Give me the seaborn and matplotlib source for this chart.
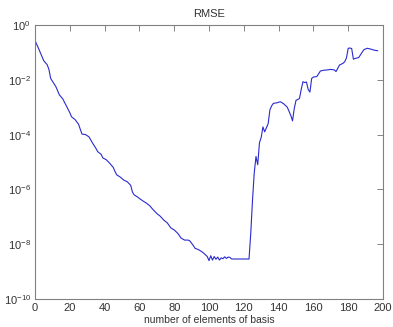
import numpy as np
import pandas as pd
import matplotlib
matplotlib.use("Agg")
import matplotlib.pyplot as plt
import seaborn as sns

# ---------------------------------------------------------
# DATA (RMSE as powers of ten)
# ---------------------------------------------------------
n_basis = [0, 2, 4, 5, 7, 8, 9, 11, 12, 14, 16, 18, 20, 21, 23, 25, 26, 27, 29, 31,
           33, 35, 36, 38, 39, 41, 43, 45, 46, 47, 49, 51, 53, 55, 56, 57, 59, 60, 62, 64,
           66, 68, 70, 72, 74, 76, 78, 80, 82, 84, 86, 88, 89, 91, 92, 94, 96, 97, 99, 100,
           101, 102, 103, 104, 105, 106, 107, 108, 109, 110, 111, 112, 113, 115, 118, 120, 122, 123, 124, 125,
           126, 127, 128, 129, 130, 131, 132, 133, 134, 135, 136, 137, 139, 141, 143, 145, 146, 147, 148, 149,
           150, 151, 152, 153, 154, 155, 156, 157, 158, 159, 160, 162, 164, 166, 168, 170, 172, 173, 174, 175,
           177, 178, 179, 180, 181, 182, 183, 184, 186, 188, 189, 191, 193, 195, 197]

log_rmse = [-0.57, -0.85, -1.15, -1.30, -1.45, -1.62, -1.95, -2.15, -2.25, -2.55,
            -2.70, -2.95, -3.20, -3.35, -3.45, -3.62, -3.80, -3.98, -4.00, -4.08,
            -4.30, -4.50, -4.62, -4.72, -4.85, -4.92, -5.05, -5.20, -5.35, -5.47,
            -5.55, -5.66, -5.72, -5.85, -6.10, -6.20, -6.28, -6.33, -6.42, -6.50,
            -6.60, -6.75, -6.88, -6.98, -7.12, -7.22, -7.40, -7.48, -7.60, -7.78,
            -7.85, -7.85, -7.88, -8.05, -8.15, -8.20, -8.28, -8.33, -8.45, -8.60,
            -8.42, -8.58, -8.45, -8.55, -8.47, -8.58, -8.50, -8.53, -8.46, -8.52,
            -8.47, -8.48, -8.54, -8.54, -8.54, -8.54, -8.54, -8.54, -7.60, -6.40,
            -5.40, -4.80, -5.10, -4.30, -4.10, -3.72, -3.90, -3.75, -3.60, -3.10,
            -2.95, -2.86, -2.84, -2.80, -2.88, -3.00, -3.15, -3.30, -3.50, -3.05,
            -2.75, -2.72, -2.68, -2.35, -2.07, -2.10, -2.08, -2.35, -2.45, -1.95,
            -1.90, -1.88, -1.68, -1.65, -1.64, -1.62, -1.64, -1.70, -1.58, -1.46,
            -1.40, -1.34, -1.20, -0.85, -0.84, -0.86, -1.25, -1.22, -1.19, -1.00,
            -0.90, -0.85, -0.88, -0.92, -0.94]

x_ticks = [0, 20, 40, 60, 80, 100, 120, 140, 160, 180, 200]
y_ticks = [1e0, 1e-2, 1e-4, 1e-6, 1e-8, 1e-10]

df = pd.DataFrame({'n': n_basis, 'rmse': 10.0 ** np.array(log_rmse)})

# ---------------------------------------------------------
# PLOT (old MATLAB look)
# ---------------------------------------------------------
sns.set_style("white")
plt.rcParams['font.family'] = ['Liberation Sans', 'DejaVu Sans']
plt.rcParams['mathtext.fontset'] = 'custom'
plt.rcParams['mathtext.rm'] = 'Liberation Sans'
plt.rcParams['mathtext.it'] = 'Liberation Sans'

fig, ax = plt.subplots(figsize=(3.93, 3.27), dpi=100)
fig.subplots_adjust(left=35/393, right=383/393, bottom=1-299/327, top=1-25/327)

sns.lineplot(data=df, x='n', y='rmse', color='#2a2ad0', linewidth=0.8, ax=ax)

ax.set_yscale('log')
ax.set_xlim(0, 200)
ax.set_ylim(1e-10, 1e0)
ax.set_xticks(x_ticks)
ax.set_yticks(y_ticks)
ax.set_yticklabels([r'$10^{%d}$' % int(np.log10(v)) for v in y_ticks])
ax.minorticks_off()
ax.tick_params(which='both', direction='in', length=4, width=0.6, color='#707070',
               labelsize=8, labelcolor='#333333', top=True, right=True, pad=3)

for s in ax.spines.values():
    s.set_color('#808080')
    s.set_linewidth(0.8)

ax.set_title('RMSE', fontsize=8, color='#333333', pad=6)
ax.set_xlabel('number of elements of basis', fontsize=7.5, color='#333333', labelpad=1)
ax.set_ylabel('')

plt.savefig('out.png', dpi=100)
